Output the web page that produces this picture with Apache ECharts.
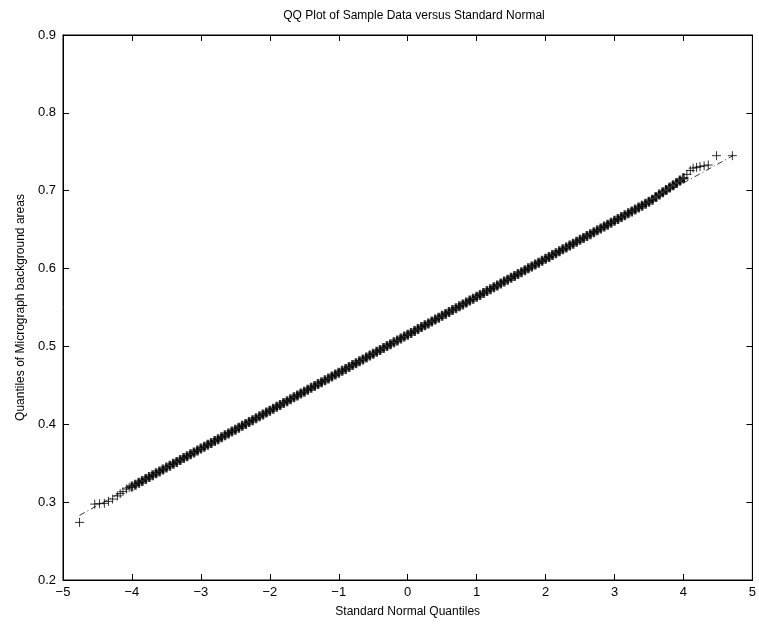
<!DOCTYPE html>
<html>
<head>
<meta charset="utf-8">
<script src="https://cdn.jsdelivr.net/npm/echarts@6/dist/echarts.min.js"></script>
<style>
  html, body { margin: 0; padding: 0; background: #fff; }
  #chart { width: 759px; height: 626px; }
</style>
</head>
<body>
<div id="chart"></div>
<script>
// 左尾（x < -4）单独读出的点
var tailLeftX = [-4.76, -4.54, -4.47, -4.40, -4.34, -4.28, -4.21, -4.17, -4.13, -4.08, -4.04];
var tailLeftY = [0.274, 0.2975, 0.298, 0.2985, 0.301, 0.304, 0.308, 0.311, 0.3135, 0.317, 0.319];

// 中间密集部分，x 从 -4 到 4，步长 0.05
var bandY = [
  0.3200, 0.3224, 0.3249, 0.3273, 0.3298, 0.3322, 0.3346, 0.3371, 0.3395, 0.3419,
  0.3444, 0.3468, 0.3493, 0.3517, 0.3541, 0.3566, 0.3590, 0.3614, 0.3639, 0.3663,
  0.3688, 0.3712, 0.3736, 0.3761, 0.3785, 0.3809, 0.3834, 0.3858, 0.3883, 0.3907,
  0.3931, 0.3956, 0.3980, 0.4004, 0.4029, 0.4053, 0.4078, 0.4102, 0.4126, 0.4151,
  0.4175, 0.4199, 0.4224, 0.4248, 0.4273, 0.4297, 0.4321, 0.4346, 0.4370, 0.4394,
  0.4419, 0.4443, 0.4468, 0.4492, 0.4516, 0.4541, 0.4565, 0.4589, 0.4614, 0.4638,
  0.4663, 0.4687, 0.4711, 0.4736, 0.4760, 0.4784, 0.4809, 0.4833, 0.4858, 0.4882,
  0.4906, 0.4931, 0.4955, 0.4979, 0.5004, 0.5028, 0.5053, 0.5077, 0.5101, 0.5126,
  0.5150, 0.5174, 0.5199, 0.5223, 0.5248, 0.5272, 0.5296, 0.5321, 0.5345, 0.5369,
  0.5394, 0.5418, 0.5443, 0.5467, 0.5491, 0.5516, 0.5540, 0.5564, 0.5589, 0.5613,
  0.5638, 0.5662, 0.5686, 0.5711, 0.5735, 0.5759, 0.5784, 0.5808, 0.5833, 0.5857,
  0.5881, 0.5906, 0.5930, 0.5954, 0.5979, 0.6003, 0.6028, 0.6052, 0.6076, 0.6101,
  0.6125, 0.6149, 0.6174, 0.6198, 0.6223, 0.6247, 0.6271, 0.6296, 0.6320, 0.6344,
  0.6369, 0.6393, 0.6418, 0.6442, 0.6466, 0.6491, 0.6515, 0.6539, 0.6564, 0.6588,
  0.6613, 0.6637, 0.6661, 0.6686, 0.6710, 0.6734, 0.6759, 0.6783, 0.6808, 0.6832,
  0.6858, 0.6885, 0.6920, 0.6950, 0.6980, 0.7010, 0.7040, 0.7070, 0.7100, 0.7130,
  0.7160
];
var bandStart = -4.0;
var bandStep = 0.05;

// 右尾（x > 4）
var tailRightX = [4.05, 4.10, 4.14, 4.19, 4.24, 4.30, 4.36, 4.48, 4.71];
var tailRightY = [0.721, 0.726, 0.729, 0.730, 0.731, 0.732, 0.733, 0.745, 0.745];

// 参考线（点划线）的两个端点
var refLineX = [-4.76, 4.71];
var refLineY = [0.283, 0.7446];

var tailPoints = [];
for (var i = 0; i < tailLeftX.length; i++) tailPoints.push([tailLeftX[i], tailLeftY[i]]);
for (var k = 0; k < tailRightX.length; k++) tailPoints.push([tailRightX[k], tailRightY[k]]);
var bandPoints = [];
for (var j = 0; j < bandY.length; j++) bandPoints.push([+(bandStart + j * bandStep).toFixed(2), bandY[j]]);

var refLine = [[refLineX[0], refLineY[0]], [refLineX[1], refLineY[1]]];

var chart = echarts.init(document.getElementById('chart'));

var fontFam = 'Liberation Sans, Arial, sans-serif';
function minus(v) { return String(v).replace('-', '\u2212'); }
var plus = 'path://M0,5L10,5M5,0L5,10';

var option = {
  backgroundColor: '#fff',
  animation: false,
  title: {
    text: 'QQ Plot of Sample Data versus Standard Normal',
    left: 409, top: 5, textAlign: 'center',
    textStyle: { fontFamily: fontFam, fontSize: 12, fontWeight: 'normal', color: '#000' }
  },
  grid: { left: 63, right: 3, top: 35, bottom: 46, show: true, borderColor: '#000', borderWidth: 1 },
  xAxis: [{
    type: 'value', min: -5, max: 5, interval: 1,
    name: 'Standard Normal Quantiles', nameLocation: 'middle', nameGap: 26,
    nameTextStyle: { fontFamily: fontFam, fontSize: 12, color: '#000' },
    axisLine: { show: true, onZero: false, lineStyle: { color: '#000' } },
    axisTick: { show: true, inside: true, length: 6, lineStyle: { color: '#000' } },
    axisLabel: { fontFamily: fontFam, fontSize: 13, color: '#000', margin: 6, formatter: minus },
    splitLine: { show: false }
  }, {
    type: 'value', min: -5, max: 5, interval: 1, position: 'top',
    axisLine: { show: true, onZero: false, lineStyle: { color: '#000' } },
    axisTick: { show: true, inside: true, length: 6, lineStyle: { color: '#000' } },
    axisLabel: { show: false }, splitLine: { show: false }
  }],
  yAxis: [{
    type: 'value', min: 0.2, max: 0.9, interval: 0.1,
    name: 'Quantiles of Micrograph background areas', nameLocation: 'middle', nameGap: 36,
    nameTextStyle: { fontFamily: fontFam, fontSize: 12, color: '#000' },
    axisLine: { show: true, onZero: false, lineStyle: { color: '#000' } },
    axisTick: { show: true, inside: true, length: 6, lineStyle: { color: '#000' } },
    axisLabel: { fontFamily: fontFam, fontSize: 13, color: '#000', margin: 7,
      formatter: function (v) { return v.toFixed(1); } },
    splitLine: { show: false }
  }, {
    type: 'value', min: 0.2, max: 0.9, interval: 0.1, position: 'right',
    axisLine: { show: true, onZero: false, lineStyle: { color: '#000' } },
    axisTick: { show: true, inside: true, length: 6, lineStyle: { color: '#000' } },
    axisLabel: { show: false }, splitLine: { show: false }
  }],
  series: [{
    type: 'line',
    data: refLine,
    symbol: 'none',
    lineStyle: { color: '#000', width: 0.8, type: [6, 3, 1, 3] },
    z: 1
  }, {
    // 中间密集的点，叠在一起成为实心带
    type: 'scatter',
    data: bandPoints,
    symbol: plus,
    symbolSize: 10,
    itemStyle: { color: 'rgba(0,0,0,0)', borderColor: '#000', borderWidth: 2.6 },
    z: 2
  }, {
    // 两端稀疏的点
    type: 'scatter',
    data: tailPoints,
    symbol: plus,
    symbolSize: 9,
    itemStyle: { color: 'rgba(0,0,0,0)', borderColor: '#000', borderWidth: 1 },
    z: 3
  }]
};

chart.setOption(option);
</script>
</body>
</html>
